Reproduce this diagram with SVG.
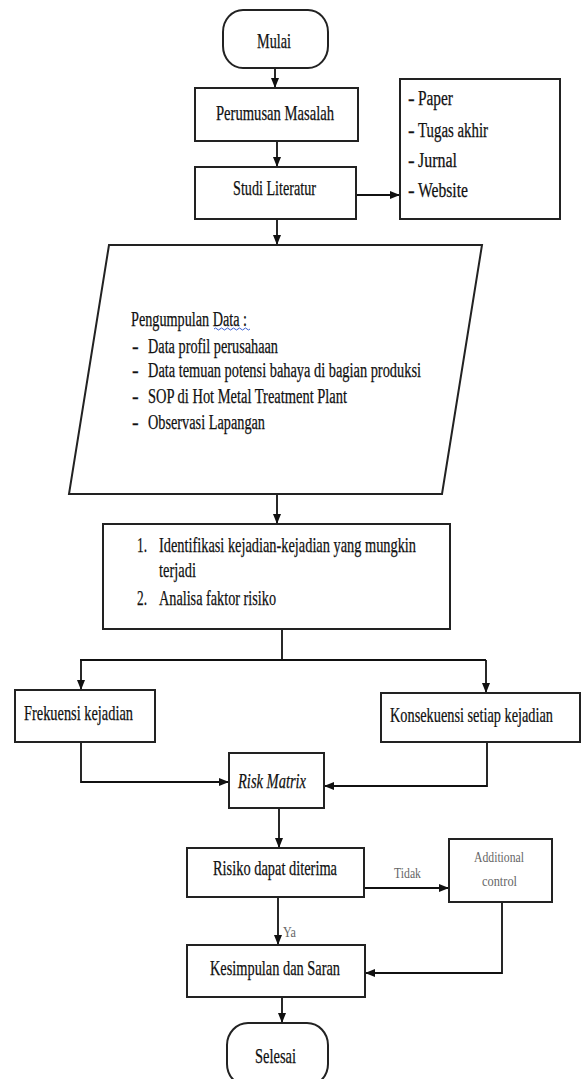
<svg xmlns="http://www.w3.org/2000/svg" width="583" height="1079" viewBox="0 0 583 1079">
<defs>
<marker id="arr" markerUnits="userSpaceOnUse" markerWidth="10" markerHeight="10" viewBox="0 0 10 10" refX="10" refY="5" orient="auto">
<path d="M0,1 L10,5 L0,9 Z" fill="#111"/>
</marker>
<style>
.box{fill:#fff;stroke:#222;stroke-width:2}
.t{font-family:"Liberation Serif","Times New Roman",serif;font-size:21px;fill:#111;stroke:#111;stroke-width:0.25}
.s{font-size:20px}
.g{font-family:"Liberation Serif","Times New Roman",serif;font-size:14px;fill:#666}
.c{fill:none;stroke:#111;stroke-width:1.8}
</style>
</defs>
<rect width="583" height="1079" fill="#fff"/>
<g id="connectors">
<path class="c" d="M275,68 V88" marker-end="url(#arr)"/>
<path class="c" d="M277,141 V167" marker-end="url(#arr)"/>
<path class="c" d="M356,195 H400" marker-end="url(#arr)"/>
<path class="c" d="M277,219 V245" marker-end="url(#arr)"/>
<path class="c" d="M277,494 V524" marker-end="url(#arr)"/>
<path class="c" d="M282,629 V660"/>
<path class="c" d="M80,660 H486"/>
<path class="c" d="M81,660 V690" marker-end="url(#arr)"/>
<path class="c" d="M486,660 V693" marker-end="url(#arr)"/>
<path class="c" d="M81,742 V782 H229" marker-end="url(#arr)"/>
<path class="c" d="M487,742 V786 H324" marker-end="url(#arr)"/>
<path class="c" d="M279,808 V848" marker-end="url(#arr)"/>
<path class="c" d="M364,888 H449" marker-end="url(#arr)"/>
<path class="c" d="M278,897 V945" marker-end="url(#arr)"/>
<path class="c" d="M502,902 V973 H365" marker-end="url(#arr)"/>
<path class="c" d="M282,997 V1023" marker-end="url(#arr)"/>
<text class="g" x="394" y="878" textLength="27" lengthAdjust="spacingAndGlyphs">Tidak</text>
<text class="g" x="283" y="937" textLength="13" lengthAdjust="spacingAndGlyphs">Ya</text>
</g>
<g id="mulai">
<rect class="box" x="223" y="10" width="105" height="58" rx="20" ry="22"/>
<text class="t" x="257" y="48" textLength="34" lengthAdjust="spacingAndGlyphs">Mulai</text>
</g>
<g id="perumusan">
<rect class="box" x="195" y="88" width="163" height="53"/>
<text class="t" x="216" y="120" textLength="118" lengthAdjust="spacingAndGlyphs">Perumusan Masalah</text>
</g>
<g id="studi">
<rect class="box" x="195" y="167" width="161" height="52"/>
<text class="t" x="233" y="195" textLength="83" lengthAdjust="spacingAndGlyphs">Studi Literatur</text>
</g>
<g id="literatur">
<rect class="box" x="400" y="79" width="160" height="140"/>
<text class="t s" x="408" y="105">-</text>
<text class="t s" x="418" y="105" textLength="35" lengthAdjust="spacingAndGlyphs">Paper</text>
<text class="t s" x="408" y="137">-</text>
<text class="t s" x="418" y="137" textLength="70" lengthAdjust="spacingAndGlyphs">Tugas akhir</text>
<text class="t s" x="408" y="167">-</text>
<text class="t s" x="418" y="167" textLength="39" lengthAdjust="spacingAndGlyphs">Jurnal</text>
<text class="t s" x="408" y="197">-</text>
<text class="t s" x="418" y="197" textLength="50" lengthAdjust="spacingAndGlyphs">Website</text>
</g>
<g id="pengumpulan">
<polygon class="box" points="109,245 482,245 442,494 69,494"/>
<text class="t s" x="131" y="326" textLength="116" lengthAdjust="spacingAndGlyphs">Pengumpulan Data :</text>
<path d="M214,329 q1.5,-2 3,0 t3,0 t3,0 t3,0 t3,0 t3,0 t3,0 t3,0 t3,0 t3,0 t3,0 t3,0" fill="none" stroke="#3a5fd0" stroke-width="1"/>
<text class="t s" x="132" y="353">-</text>
<text class="t s" x="148" y="353" textLength="130" lengthAdjust="spacingAndGlyphs">Data profil perusahaan</text>
<text class="t s" x="132" y="377">-</text>
<text class="t s" x="148" y="377" textLength="273" lengthAdjust="spacingAndGlyphs">Data temuan potensi bahaya di bagian produksi</text>
<text class="t s" x="132" y="403">-</text>
<text class="t s" x="148" y="403" textLength="199" lengthAdjust="spacingAndGlyphs">SOP di Hot Metal Treatment Plant</text>
<text class="t s" x="132" y="429">-</text>
<text class="t s" x="148" y="429" textLength="117" lengthAdjust="spacingAndGlyphs">Observasi Lapangan</text>
</g>
<g id="identifikasi">
<rect class="box" x="103" y="524" width="347" height="105"/>
<text class="t" x="137" y="552" textLength="10" lengthAdjust="spacingAndGlyphs">1.</text>
<text class="t" x="159" y="552" textLength="257" lengthAdjust="spacingAndGlyphs">Identifikasi kejadian-kejadian yang mungkin</text>
<text class="t" x="159" y="577" textLength="37" lengthAdjust="spacingAndGlyphs">terjadi</text>
<text class="t" x="137" y="605" textLength="10" lengthAdjust="spacingAndGlyphs">2.</text>
<text class="t" x="159" y="605" textLength="117" lengthAdjust="spacingAndGlyphs">Analisa faktor risiko</text>
</g>
<g id="frekuensi">
<rect class="box" x="15" y="690" width="140" height="52"/>
<text class="t" x="24" y="720" textLength="109" lengthAdjust="spacingAndGlyphs">Frekuensi kejadian</text>
</g>
<g id="konsekuensi">
<rect class="box" x="381" y="693" width="199" height="49"/>
<text class="t" transform="translate(390,722) scale(0.682,1)" x="0" y="0" textLength="239" lengthAdjust="spacingAndGlyphs">Konsekuensi setiap kejadian</text>
</g>
<g id="riskmatrix">
<rect class="box" x="229" y="753" width="95" height="55"/>
<text class="t" x="238" y="788" font-style="italic" font-size="19" textLength="68" lengthAdjust="spacingAndGlyphs">Risk Matrix</text>
</g>
<g id="risiko">
<rect class="box" x="187" y="848" width="177" height="49"/>
<text class="t" x="213" y="875" textLength="124" lengthAdjust="spacingAndGlyphs">Risiko dapat diterima</text>
</g>
<g id="additional">
<rect class="box" x="449" y="839" width="103" height="63"/>
<text class="g" x="474" y="862" textLength="50" lengthAdjust="spacingAndGlyphs">Additional</text>
<text class="g" x="482" y="886" textLength="35" lengthAdjust="spacingAndGlyphs">control</text>
</g>
<g id="kesimpulan">
<rect class="box" x="187" y="945" width="178" height="52"/>
<text class="t" x="210" y="975" textLength="130" lengthAdjust="spacingAndGlyphs">Kesimpulan dan Saran</text>
</g>
<g id="selesai">
<rect class="box" x="227" y="1023" width="101" height="63" rx="21" ry="22"/>
<text class="t" x="255" y="1063" textLength="41" lengthAdjust="spacingAndGlyphs">Selesai</text>
</g>
</svg>
